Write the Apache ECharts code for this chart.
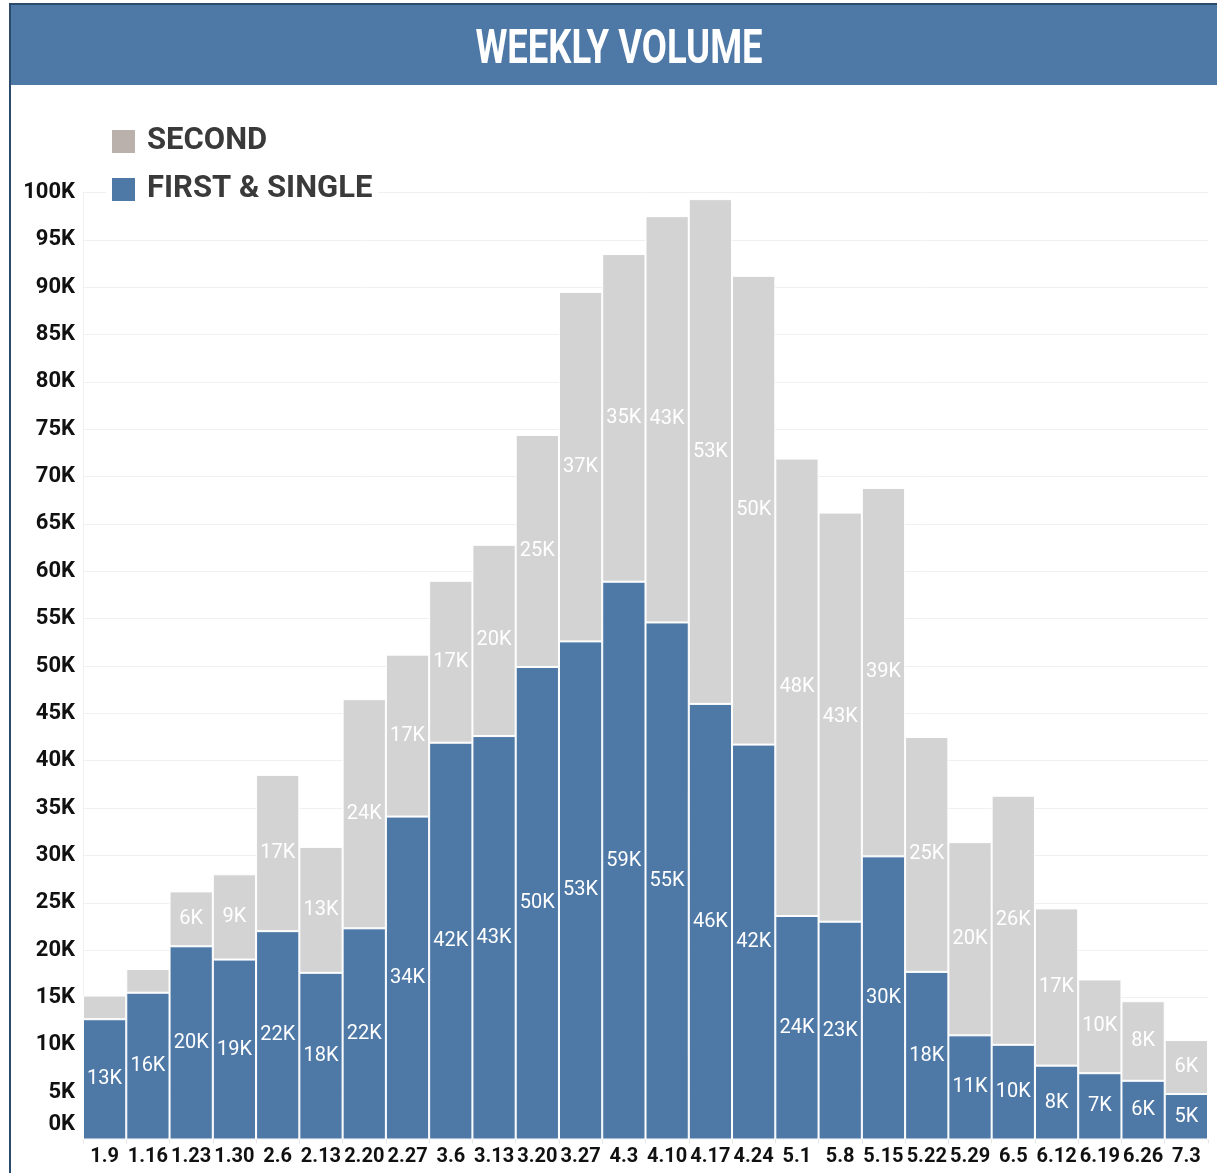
<!DOCTYPE html>
<html>
<head>
<meta charset="utf-8">
<title>Weekly Volume</title>
<script src="https://cdn.jsdelivr.net/npm/echarts@6/dist/echarts.min.js"></script>
<style>
  html, body { margin: 0; padding: 0; background: #fff; }
  #myChart { width: 1217px; height: 1173px; }
</style>
</head>
<body>
<div id="myChart"></div>
<script>
  // week labels
  var weeks = ['1.9', '1.16', '1.23', '1.30', '2.6', '2.13', '2.20', '2.27', '3.6', '3.13', '3.20', '3.27', '4.3',
    '4.10', '4.17', '4.24', '5.1', '5.8', '5.15', '5.22', '5.29', '6.5', '6.12', '6.19', '6.26', '7.3']
  // volumes in thousands
  var firstSingle = [12.7, 15.5, 20.4, 19.0, 22.0, 17.6, 22.3, 34.1, 41.9, 42.6, 49.9, 52.6, 58.9,
    54.6, 46.0, 41.7, 23.6, 23.0, 29.9, 17.7, 11.0, 10.0, 7.8, 7.0, 6.2, 4.8]
  var second = [2.5, 2.5, 5.8, 9.0, 16.5, 13.3, 24.2, 17.1, 17.1, 20.2, 24.5, 36.9, 34.6,
    42.9, 53.3, 49.5, 48.3, 43.2, 38.9, 24.8, 20.4, 26.3, 16.6, 9.9, 8.4, 5.7]
  var yTicks = [0, 100, 5] // min, max, step (K)

  var font = 'Roboto, "Liberation Sans", sans-serif'

  function kLabel (p) {
    if (p.value < 4) return ''
    return Math.round(p.value) + 'K'
  }

  var myChart = echarts.init(document.getElementById('myChart'))
  myChart.setOption({
    animation: false,
    textStyle: { fontFamily: font },
    graphic: [
      { type: 'rect', shape: { x: 10, y: 5, width: 1207, height: 80 }, style: { fill: '#4e79a7' } },
      { type: 'rect', shape: { x: 10, y: 3, width: 1207, height: 2 }, style: { fill: '#2b4a6c' } },
      { type: 'rect', shape: { x: 9, y: 3, width: 2, height: 1170 }, style: { fill: '#2b4a6c' } },
      {
        type: 'text', x: 619, y: 51, scaleX: 0.76,
        style: {
          text: 'WEEKLY VOLUME', fill: '#fff', font: 'bold 48px ' + font,
          textAlign: 'center', textVerticalAlign: 'middle'
        }
      }
    ],
    legend: {
      orient: 'vertical',
      left: 106,
      top: 124,
      itemWidth: 25,
      itemHeight: 25,
      itemGap: 17,
      icon: 'rect',
      backgroundColor: '#fff',
      padding: [2, 6, 2, 4],
      textStyle: { fontSize: 31, fontWeight: 'bold', color: '#3a3a3a', fontFamily: font, padding: [0, 0, 0, 6] },
      data: [
        { name: 'SECOND', itemStyle: { color: '#bab0ac' } },
        { name: 'FIRST & SINGLE', itemStyle: { color: '#4e79a7' } }
      ]
    },
    grid: { left: 83, right: 9, top: 192.5, bottom: 33.5, containLabel: false },
    xAxis: {
      type: 'category',
      data: weeks,
      axisLine: { show: false },
      axisTick: { show: true, lineStyle: { color: '#e6e6e6' }, length: 4 },
      axisLabel: { color: '#111', fontSize: 20, fontWeight: 'bold', margin: 7, interval: 0 }
    },
    yAxis: {
      type: 'value',
      min: yTicks[0],
      max: yTicks[1],
      interval: yTicks[2],
      axisLine: { show: true, lineStyle: { color: '#f0f0f0' } },
      axisTick: { show: false },
      splitLine: { lineStyle: { color: '#f0f0f0' } },
      axisLabel: {
        color: '#111', fontSize: 22, fontWeight: 'bold', margin: 8,
        formatter: function (v) { return v === 0 ? '{z|0K}' : v + 'K' },
        rich: { z: { fontSize: 22, fontWeight: 'bold', color: '#111', padding: [0, 0, 30, 0] } }
      }
    },
    series: [
      {
        name: 'FIRST & SINGLE',
        type: 'bar',
        stack: 'vol',
        barCategoryGap: '0%',
        itemStyle: { color: '#4e79a7', borderColor: '#fff', borderWidth: 1 },
        label: { show: true, position: 'inside', color: '#fff', fontSize: 20, formatter: kLabel },
        data: firstSingle
      },
      {
        name: 'SECOND',
        type: 'bar',
        stack: 'vol',
        barCategoryGap: '0%',
        itemStyle: { color: '#d3d3d3', borderColor: '#fff', borderWidth: 1 },
        label: { show: true, position: 'inside', color: '#fff', fontSize: 20, formatter: kLabel },
        data: second
      }
    ]
  })
</script>
</body>
</html>
